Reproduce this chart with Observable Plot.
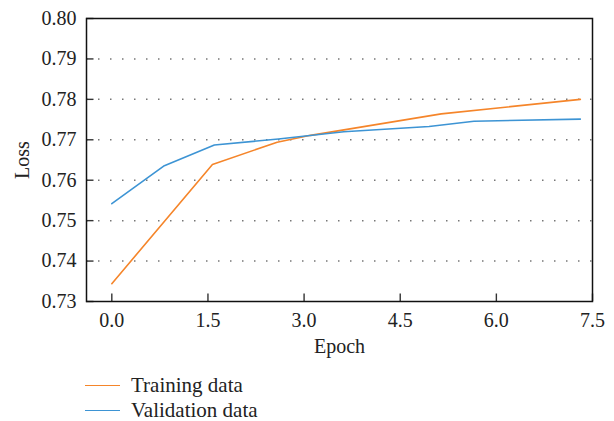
<!DOCTYPE html>
<html><head><meta charset="utf-8">
<script src="https://cdn.jsdelivr.net/npm/d3@7"></script>
<script src="https://cdn.jsdelivr.net/npm/@observablehq/plot@0.6"></script>
<style>
body{margin:0;background:#fff;}
#chart svg{display:block;}
.legend{padding:2.5px 0 0 85px;font-size:21px;color:#222;font-family:"Liberation Serif","Times New Roman","DejaVu Serif",serif;}
.row{display:flex;align-items:center;height:25px;}
.row span.t{line-height:1;}
.sw{width:35px;height:0;border-top:1.5px solid;margin-right:11px;}
</style></head><body>
<div id="chart"></div>
<div class="legend" id="legend"></div>
<script>
const seriesNames = ["Training data", "Validation data"];
const seriesColors = ["#f5852a", "#3d94d4"];
const trainEpoch = [0, 1.57, 2.58, 3.1, 5.14, 7.31];
const trainLoss  = [0.7344, 0.7639, 0.7694, 0.7711, 0.7764, 0.7800];
const valEpoch = [0, 0.82, 1.6, 2.6, 3.62, 4.95, 5.65, 7.31];
const valLoss  = [0.7542, 0.7636, 0.7687, 0.7702, 0.7720, 0.7733, 0.7746, 0.7751];
const xTicks = [0, 1.5, 3.0, 4.5, 6.0, 7.5];
const yTicks = [0.73, 0.74, 0.75, 0.76, 0.77, 0.78, 0.79, 0.80];
const gridTicks = [0.74, 0.75, 0.76, 0.77, 0.78, 0.79];
const xDomain = [-0.395, 7.5];
const yDomain = [0.73, 0.80];

const train = trainEpoch.map((e, i) => ({epoch: e, loss: trainLoss[i]}));
const val = valEpoch.map((e, i) => ({epoch: e, loss: valLoss[i]}));

const serif = "'Liberation Serif', 'Times New Roman', 'DejaVu Serif', serif";
const plot = Plot.plot({
  width: 614, height: 370,
  marginLeft: 86, marginRight: 22, marginTop: 18, marginBottom: 69,
  style: {fontFamily: serif, fontSize: "20px", color: "#222", background: "white", overflow: "visible"},
  x: {domain: xDomain},
  y: {domain: yDomain},
  marks: [
    Plot.gridY(gridTicks, {stroke: "#777", strokeOpacity: 1, strokeWidth: 1.5, strokeDasharray: "1.5,10.5"}),
    Plot.ruleX(xTicks, {x: d => d, y1: yDomain[0], y2: yDomain[0], insetBottom: 7.5, stroke: "#333", strokeWidth: 1.4}),
    Plot.ruleY(yTicks, {y: d => d, x1: xDomain[0], x2: xDomain[0], insetRight: -7.5, stroke: "#333", strokeWidth: 1.4}),
    Plot.axisX(xTicks, {tickSize: 0, tickPadding: 11, tickFormat: d => d.toFixed(1), fontFamily: serif, fontSize: 20, label: "Epoch", labelAnchor: "center", labelArrow: false, labelOffset: 51}),
    Plot.axisY(yTicks, {tickSize: 0, tickPadding: 10, tickFormat: d => d.toFixed(2), fontFamily: serif, fontSize: 20, label: "Loss", labelAnchor: "center", labelArrow: false, labelOffset: 72}),
    Plot.line(train, {x: "epoch", y: "loss", stroke: seriesColors[0], strokeWidth: 1.6}),
    Plot.line(val, {x: "epoch", y: "loss", stroke: seriesColors[1], strokeWidth: 1.6}),
    Plot.frame({stroke: "#111", strokeWidth: 1.5})
  ]
});
plot.querySelectorAll("text").forEach(t => t.style.fontFamily = serif);
document.getElementById("chart").appendChild(plot);

const legend = document.getElementById("legend");
seriesNames.forEach((name, i) => {
  const row = document.createElement("div");
  row.className = "row";
  const sw = document.createElement("span");
  sw.className = "sw";
  sw.style.borderTopColor = seriesColors[i];
  const label = document.createElement("span");
  label.className = "t";
  label.textContent = name;
  row.appendChild(sw);
  row.appendChild(label);
  legend.appendChild(row);
});
</script>
</body></html>
